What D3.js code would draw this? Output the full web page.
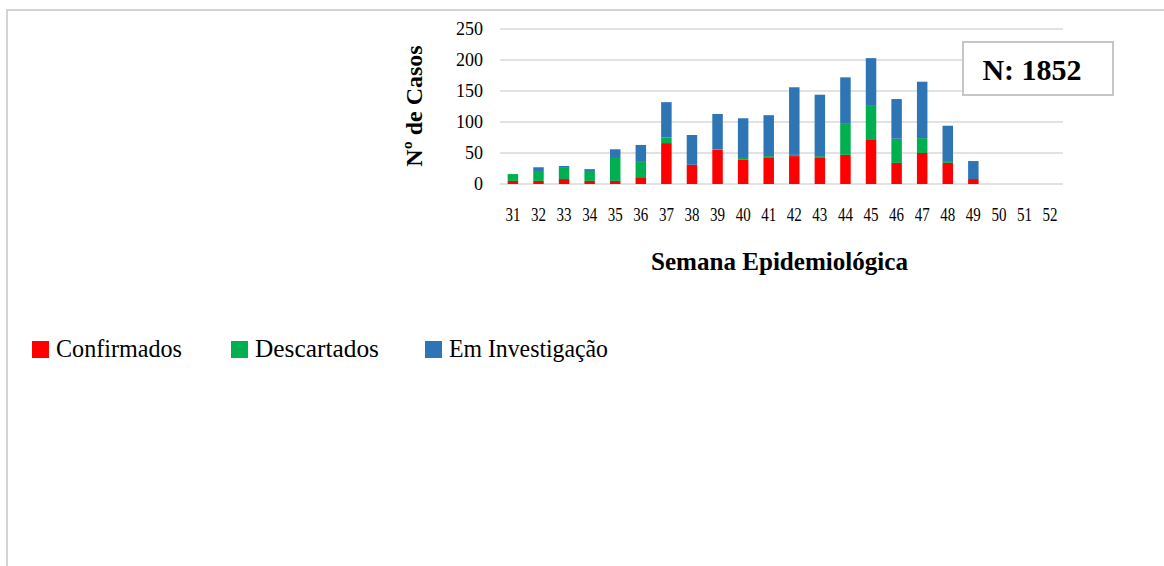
<!DOCTYPE html>
<html>
<head>
<meta charset="utf-8">
<script src="https://cdn.jsdelivr.net/npm/d3@7"></script>
<style>
  body { margin: 0; background: #fff; }
  svg { display: block; font-family: "Liberation Serif", "Times New Roman", serif; }
</style>
</head>
<body>
<div id="chart"></div>
<script>
// semanas epidemiologicas
const semanas = ['31','32','33','34','35','36','37','38','39','40','41','42','43','44','45','46','47','48','49','50','51','52'];
const confirmados = [5, 5, 8, 5, 5, 11, 66, 31, 55, 39, 42, 45, 42, 47, 71, 34, 50, 34, 8, 0, 0, 0];
const descartados = [11, 16, 18, 16, 37, 26, 9, 0, 1, 3, 3, 2, 3, 50, 55, 39, 24, 3, 0, 0, 0, 0];
const investigacao = [0, 6, 3, 3, 14, 26, 57, 48, 57, 64, 66, 109, 99, 75, 77, 64, 91, 57, 29, 0, 0, 0];
const yTicks = [0, 50, 100, 150, 200, 250];
const series = ['Confirmados', 'Descartados', 'Em Investigação'];
const cores = ['#ff0000', '#00b050', '#2e75b6'];
const totalLabel = 'N: 1852';

const serif = '"Liberation Serif", "Times New Roman", serif';
const width = 1164;
const height = 566;
const margin = { top: 29, left: 500, right: 101, bottom: 382 };

const rows = semanas.map((s, i) => ({
  semana: s,
  'Confirmados': confirmados[i],
  'Descartados': descartados[i],
  'Em Investigação': investigacao[i]
}));

const svg = d3.select('#chart').append('svg')
  .attr('width', width)
  .attr('height', height)
  .attr('font-family', serif);

// moldura
svg.append('path')
  .attr('d', `M7,${height} L7,10 L${width},10`)
  .attr('fill', 'none')
  .attr('stroke', '#c6c6c6')
  .attr('stroke-width', 1.5);

const x = d3.scaleBand()
  .domain(semanas)
  .range([margin.left, width - margin.right])
  .paddingInner(0.59)
  .paddingOuter(0.3);

const y = d3.scaleLinear()
  .domain([0, 250])
  .range([height - margin.bottom, margin.top]);

// grid
svg.append('g')
  .selectAll('line')
  .data(yTicks)
  .join('line')
  .attr('x1', margin.left)
  .attr('x2', width - margin.right)
  .attr('y1', d => y(d))
  .attr('y2', d => y(d))
  .attr('stroke', '#d9d9d9')
  .attr('stroke-width', 1.5);

// eixo y
const yAxis = svg.append('g')
  .attr('transform', `translate(${margin.left},0)`)
  .call(d3.axisLeft(y).tickValues(yTicks).tickSize(0).tickPadding(17));
yAxis.select('.domain').remove();
yAxis.attr('font-family', serif);
yAxis.selectAll('text')
  .attr('font-size', 18)
  .attr('fill', '#000');

// barras empilhadas
const stack = d3.stack().keys(series)(rows);

svg.append('g')
  .selectAll('g')
  .data(stack)
  .join('g')
  .attr('fill', (d, i) => cores[i])
  .selectAll('rect')
  .data(d => d)
  .join('rect')
  .attr('x', d => x(d.data.semana))
  .attr('width', x.bandwidth())
  .attr('y', d => y(d[1]))
  .attr('height', d => y(d[0]) - y(d[1]));

// eixo x
const xAxis = svg.append('g')
  .attr('transform', `translate(0,${y(0)})`)
  .call(d3.axisBottom(x).tickSize(0).tickPadding(24));
xAxis.select('.domain').remove();
xAxis.attr('font-family', serif);
xAxis.selectAll('text')
  .attr('font-size', 19)
  .attr('fill', '#000')
  .attr('textLength', 15)
  .attr('lengthAdjust', 'spacingAndGlyphs');

// titulos
svg.append('text')
  .attr('x', (margin.left + width - margin.right) / 2 - 2)
  .attr('y', 270)
  .attr('text-anchor', 'middle')
  .attr('font-size', 26)
  .attr('font-weight', 'bold')
  .attr('textLength', 257)
  .attr('lengthAdjust', 'spacingAndGlyphs')
  .text('Semana Epidemiológica');

svg.append('text')
  .attr('transform', 'translate(422,106) rotate(-90)')
  .attr('text-anchor', 'middle')
  .attr('font-size', 24)
  .attr('font-weight', 'bold')
  .text('Nº de Casos');

// caixa N
const box = svg.append('g');
box.append('rect')
  .attr('x', 963)
  .attr('y', 42)
  .attr('width', 150)
  .attr('height', 53)
  .attr('fill', '#fff')
  .attr('stroke', '#c6c6c6')
  .attr('stroke-width', 2);
box.append('text')
  .attr('x', 1032)
  .attr('y', 80)
  .attr('text-anchor', 'middle')
  .attr('font-size', 30)
  .attr('font-weight', 'bold')
  .text(totalLabel);

// legenda
const legX = [32, 231, 425];
const legW = [126, 124, 159];
const leg = svg.append('g')
  .selectAll('g')
  .data(series)
  .join('g')
  .attr('transform', (d, i) => `translate(${legX[i]},341)`);
leg.append('rect')
  .attr('width', 17)
  .attr('height', 17)
  .attr('fill', (d, i) => cores[i]);
leg.append('text')
  .attr('x', 24)
  .attr('y', 16)
  .attr('font-family', serif)
  .attr('font-size', 26)
  .attr('textLength', (d, i) => legW[i])
  .attr('lengthAdjust', 'spacingAndGlyphs')
  .text(d => d);
</script>
</body>
</html>
